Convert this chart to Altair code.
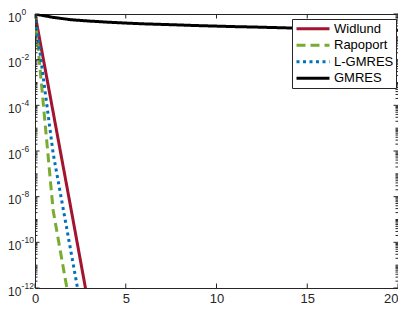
import altair as alt
import pandas as pd

# ---- data ----
series = ["Widlund", "Rapoport", "L-GMRES", "GMRES"]
colors = ["#A2142F", "#77AC30", "#0072BD", "#000000"]
dashes = [[1, 0], [9, 5], [3, 3.5], [1, 0]]

widlund_x = [0, 1, 2, 3]
widlund_y = [1.0, 5.0e-5, 2.5e-9, 1.1e-13]
rapoport_x = [0, 1, 2]
rapoport_y = [1.0, 2.5e-9, 8.0e-14]
lgmres_x = [0, 1, 2, 3]
lgmres_y = [1.0, 7.9e-7, 3.2e-11, 1.3e-15]
gmres_x = [0, 1, 2, 3, 4, 5, 6, 7, 8, 9, 10, 11, 12, 13, 14, 15, 16, 17, 18, 19, 20]
gmres_y = [1.0, 0.71, 0.56, 0.49, 0.44, 0.40, 0.37, 0.35, 0.33, 0.31, 0.295,
           0.28, 0.27, 0.257, 0.245, 0.234, 0.226, 0.219, 0.211, 0.204, 0.195]

x_ticks = [0, 5, 10, 15, 20]
y_ticks = [1.0, 1e-2, 1e-4, 1e-6, 1e-8, 1e-10, 1e-12]
y_exps = ["0", "-2", "-4", "-6", "-8", "-10", "-12"]
y_minor = [m * 10.0 ** k for k in range(-12, 0) for m in range(1, 10)
           if not (m == 1 and k % 2 == 0)]

PADL, PADT, PADR, PADB = 27, 6, 0, 17
W, H = 363, 274
FONT = "Liberation Sans"
INK = "#262626"

rows = []
for name, xs, ys in [("Widlund", widlund_x, widlund_y),
                     ("Rapoport", rapoport_x, rapoport_y),
                     ("L-GMRES", lgmres_x, lgmres_y),
                     ("GMRES", gmres_x, gmres_y)]:
    for i, (a, b) in enumerate(zip(xs, ys)):
        rows.append({"series": name, "x": a, "y": b, "order": i})
df = pd.DataFrame(rows)

xscale = alt.Scale(domain=[0, 20], nice=False, zero=False)
yscale = alt.Scale(type="log", domain=[1e-12, 1], nice=False)
xaxis = alt.Axis(values=x_ticks, title=None, grid=False, ticks=False,
                 domain=False, labelFontSize=13, labelFont=FONT,
                 labelColor=INK, labelPadding=4, labelFlush=False,
                 labelAlign={"condition": {"test": "datum.value >= 20", "value": "right"},
                             "value": "center"})

legend = alt.Legend(
    title=None, orient="none", legendX=292 - 8 - PADL, legendY=5,
    symbolType="stroke", symbolSize=1089, symbolStrokeWidth=3,
    labelFontSize=13, labelFont=FONT, labelColor="black",
    padding=2, strokeColor=INK, fillColor="white", cornerRadius=0,
    clipHeight=15.5, rowPadding=0.5, labelOffset=3, symbolOffset=1,
)

lines = alt.Chart(df).mark_line(clip=True, strokeWidth=3, strokeCap="butt").encode(
    x=alt.X("x:Q", scale=xscale, axis=xaxis),
    y=alt.Y("y:Q", scale=yscale, axis=None),
    color=alt.Color("series:N", scale=alt.Scale(domain=series, range=colors),
                    sort=series, legend=legend),
    strokeDash=alt.StrokeDash("series:N", scale=alt.Scale(domain=series, range=dashes),
                              sort=series, legend=legend),
    order="order:Q",
)

ymaj = pd.DataFrame({"y": y_ticks, "e": y_exps})
ymin = pd.DataFrame({"y": y_minor})
xmaj = pd.DataFrame({"x": x_ticks})

def yrule(data, x1, x2):
    return alt.Chart(data).mark_rule(color=INK, strokeWidth=1).encode(
        y=alt.Y("y:Q", scale=yscale, axis=None),
        x=alt.value(x1), x2=alt.value(x2))

def xrule(data, y1, y2):
    return alt.Chart(data).mark_rule(color=INK, strokeWidth=1).encode(
        x=alt.X("x:Q", scale=xscale, axis=xaxis),
        y=alt.value(y1), y2=alt.value(y2))

ticks = [
    yrule(ymaj, 0, 4.5), yrule(ymaj, W - 4.5, W),
    yrule(ymin, 0, 2.5), yrule(ymin, W - 2.5, W),
    xrule(xmaj, H - 4.5, H), xrule(xmaj, 0, 4.5),
]

base_lbl = alt.Chart(ymaj).mark_text(
    align="left", baseline="alphabetic", dy=7.5, fontSize=12, font=FONT,
    color=INK).encode(
    y=alt.Y("y:Q", scale=yscale, axis=None), x=alt.value(-PADL),
    text=alt.value("10"))
exp_lbl = alt.Chart(ymaj).mark_text(
    align="left", baseline="alphabetic", dy=0.5, fontSize=8.5, font=FONT,
    color=INK).encode(
    y=alt.Y("y:Q", scale=yscale, axis=None), x=alt.value(-PADL + 13.6),
    text="e:N")

chart = alt.layer(lines, *ticks, base_lbl, exp_lbl).properties(
    width=W, height=H,
    autosize=alt.AutoSizeParams(type="none"),
    padding={"left": PADL, "top": PADT, "right": PADR, "bottom": PADB},
).configure(font=FONT).configure_view(stroke=INK, strokeWidth=1)

chart.save("out.html", embed_options={"renderer": "svg", "actions": False})
